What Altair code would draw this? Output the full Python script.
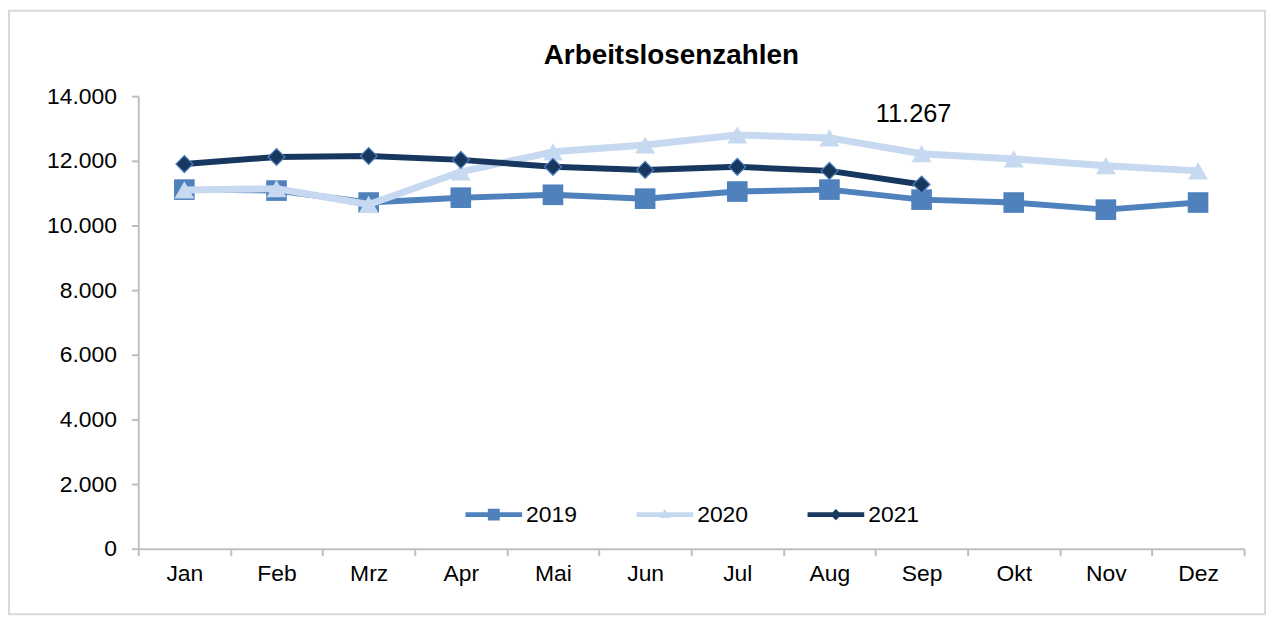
import altair as alt
import pandas as pd

months = ["Jan", "Feb", "Mrz", "Apr", "Mai", "Jun", "Jul", "Aug", "Sep", "Okt", "Nov", "Dez"]
years = ["2019", "2020", "2021"]
v2019 = [11110, 11080, 10710, 10860, 10950, 10830, 11050, 11110, 10800, 10710, 10490, 10710]
v2020 = [11100, 11140, 10650, 11660, 12280, 12490, 12800, 12710, 12220, 12060, 11850, 11690]
v2021 = [11900, 12120, 12150, 12030, 11815, 11720, 11815, 11690, 11267]
colors = ["#4F81BD", "#C6D9F1", "#17375E"]
y_ticks = [0, 2000, 4000, 6000, 8000, 10000, 12000, 14000]

rows = []
for yr, vals in zip(years, [v2019, v2020, v2021]):
    for m, v in zip(months, vals):
        rows.append({"month": m, "year": yr, "value": v})
df = pd.DataFrame(rows)

FONT = "Liberation Sans"
W, H = 1112, 455

x_enc = alt.X(
    "month:N",
    sort=months,
    scale=alt.Scale(type="band", domain=months, paddingInner=0, paddingOuter=0),
    axis=alt.Axis(title=None, labelAngle=0, tickBand="extent", labelPadding=7),
)
y_enc = alt.Y(
    "value:Q",
    scale=alt.Scale(domain=[0, 14000], nice=False),
    axis=alt.Axis(
        title=None,
        values=y_ticks,
        labelExpr="replace(format(datum.value, ',d'), ',', '.')",
        labelPadding=15,
    ),
)

base = alt.Chart(df)

shapes = ["square", "triangle-up", "diamond"]
sizes = [430, 400, 290]
widths = [6, 7, 6]
layers = []
for i, yr in enumerate(years):
    sub = base.transform_filter(alt.datum.year == yr)
    layers.append(
        sub.mark_line(color=colors[i], strokeWidth=widths[i], strokeJoin="round").encode(x=x_enc, y=y_enc)
    )
    pt_kwargs = dict(filled=True, shape=shapes[i], size=sizes[i], color=colors[i], opacity=1)
    if yr == "2021":
        pt_kwargs.update(stroke="#4F81BD", strokeWidth=1.2, fill=colors[i])
    layers.append(sub.mark_point(**pt_kwargs).encode(x=x_enc, y=y_enc))

# legend layer (invisible marks, visible legend with line+marker symbols)
legend_paths = [
    "M-1,-0.085H1V0.085H-1Z M-0.21,-0.21H0.21V0.21H-0.21Z",
    "M-1,-0.085H1V0.085H-1Z M-0.2,0.12L0,-0.2L0.2,0.12Z",
    "M-1,-0.085H1V0.085H-1Z M0,-0.2L0.2,0L0,0.2L-0.2,0Z",
]
leg = dict(
    orient="none", legendX=329, legendY=392, direction="horizontal", title=None,
    labelFontSize=23, labelFont=FONT, labelColor="#000000", symbolSize=3249,
    labelOffset=4, columnPadding=59, padding=0, symbolOpacity=1, symbolStrokeWidth=0,
)
legend_layer = base.mark_point(filled=True, opacity=0).encode(
    x=x_enc,
    y=y_enc,
    color=alt.Color("year:N", scale=alt.Scale(domain=years, range=colors), legend=alt.Legend(**leg)),
    shape=alt.Shape("year:N", scale=alt.Scale(domain=years, range=legend_paths), legend=alt.Legend(**leg)),
)

label_layer = (
    base.transform_filter((alt.datum.year == "2021") & (alt.datum.month == "Sep"))
    .transform_calculate(label="replace(format(datum.value, ',d'), ',', '.')")
    .mark_text(dx=-8, dy=-63, fontSize=25.5, font=FONT, baseline="alphabetic", align="center", color="#000000")
    .encode(x=x_enc, y=y_enc, text="label:N")
)

border = alt.Chart(alt.Data(values=[{}])).mark_rect(
    fill="transparent", stroke="#D9D9D9", strokeWidth=2
).encode(x=alt.value(-130), x2=alt.value(1133), y=alt.value(-86), y2=alt.value(521))

chart = (
    alt.layer(border, *layers, legend_layer, label_layer)
    .properties(
        width=W,
        height=H,
        padding=0,
        title=alt.Title(
            "Arbeitslosenzahlen", fontSize=28, fontWeight="bold", font=FONT, color="#000000",
            anchor="middle", frame="group", dx=-20, offset=-61,
        ),
    )
    .configure_view(stroke=None)
    .configure_axis(
        domainColor="#BFBFBF", domainWidth=2, tickColor="#BFBFBF", tickWidth=2, tickSize=7,
        labelFont=FONT, labelFontSize=23, labelColor="#000000", grid=False,
    )
)

chart.save("out.html", embed_options={"renderer": "svg", "actions": False})
